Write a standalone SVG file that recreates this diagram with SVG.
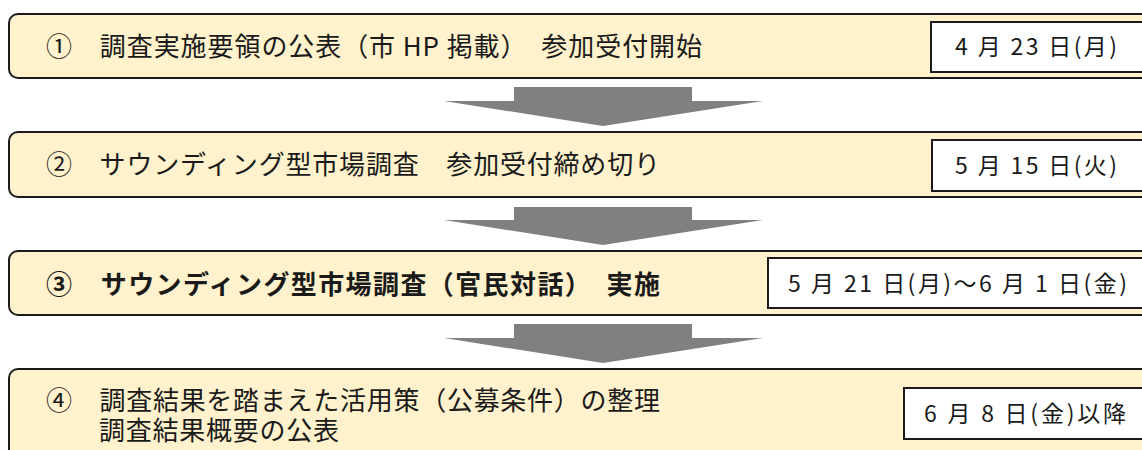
<svg xmlns="http://www.w3.org/2000/svg" width="1142" height="450" viewBox="0 0 1142 450">
<style>
.box{fill:#FFF2CC;stroke:#1a1a1a;stroke-width:2}
.date{fill:#ffffff;stroke:#1a1a1a;stroke-width:2}
.t{font-family:"Noto Sans CJK JP","Noto Sans",sans-serif;font-size:26px;fill:#1a1a1a}
.b{font-weight:700}
.d{font-family:"Noto Sans CJK JP","Noto Sans",sans-serif;font-size:23px;fill:#1a1a1a}
.arrow{fill:#808080}
</style>
<rect width="1142" height="450" fill="#ffffff"/>
<g id="connectors">
<polygon class="arrow" points="514,87 692,87 692,101 763,101 603,126 444,101 514,101"/>
<polygon class="arrow" points="514,207 692,207 692,220 763,220 603,245 444,220 514,220"/>
<polygon class="arrow" points="514,324 692,324 692,338 763,338 603,363 444,338 514,338"/>
</g>
<g id="step1">
<rect class="box" x="9" y="14" width="1150" height="64" rx="9"/>
<text class="t" x="46" y="56" textLength="656" lengthAdjust="spacing" xml:space="preserve">①　調査実施要領の公表（市 HP 掲載）　参加受付開始</text>
<rect class="date" x="931" y="22" width="220" height="50"/>
<text class="d" x="955" y="55" textLength="162" lengthAdjust="spacing" xml:space="preserve">4 月 23 日(月)</text>
</g>
<g id="step2">
<rect class="box" x="9" y="132" width="1150" height="65" rx="9"/>
<text class="t" x="46" y="174" textLength="614" lengthAdjust="spacing" xml:space="preserve">②　サウンディング型市場調査　参加受付締め切り</text>
<rect class="date" x="932" y="140" width="220" height="51"/>
<text class="d" x="955" y="174" textLength="162" lengthAdjust="spacing" xml:space="preserve">5 月 15 日(火)</text>
</g>
<g id="step3">
<rect class="box" x="9" y="251" width="1150" height="64" rx="9"/>
<text class="t b" x="46" y="294" textLength="614" lengthAdjust="spacing" xml:space="preserve">③　サウンディング型市場調査（官民対話）　実施</text>
<rect class="date" x="768" y="258" width="390" height="50"/>
<text class="d" x="788" y="292" textLength="339" lengthAdjust="spacing" xml:space="preserve">5 月 21 日(月)～6 月 1 日(金)</text>
</g>
<g id="step4">
<rect class="box" x="9" y="369" width="1150" height="90" rx="9"/>
<text class="t" xml:space="preserve"><tspan x="46" y="410" textLength="614" lengthAdjust="spacing">④　調査結果を踏まえた活用策（公募条件）の整理</tspan><tspan x="99" y="440" textLength="240" lengthAdjust="spacing">調査結果概要の公表</tspan></text>
<rect class="date" x="904" y="388" width="250" height="51"/>
<text class="d" x="924" y="422" textLength="202" lengthAdjust="spacing" xml:space="preserve">6 月 8 日(金)以降</text>
</g>
</svg>
